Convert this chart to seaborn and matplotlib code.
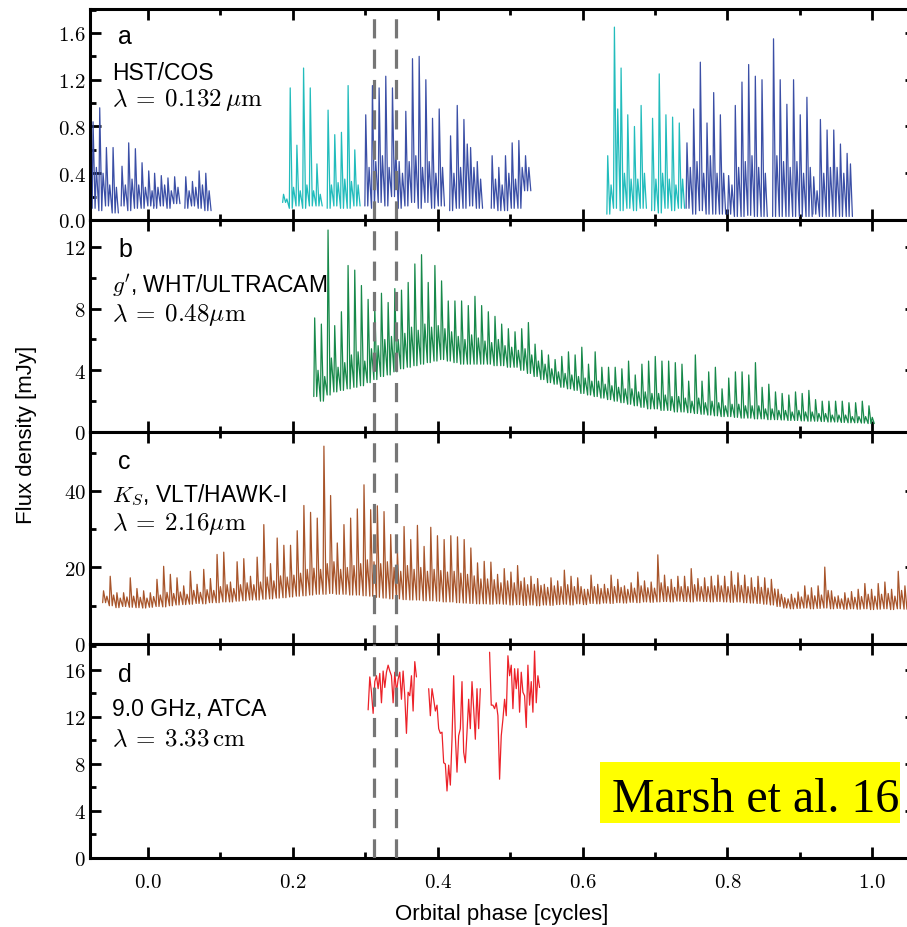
import numpy as np
import pandas as pd
import matplotlib
matplotlib.use("Agg")
import matplotlib.pyplot as plt
from matplotlib.patches import Rectangle
from matplotlib.ticker import MultipleLocator, FuncFormatter
import seaborn as sns

# ------------------------------------------------------------------ data
PULSE_STEP = 0.00922   # beat-pulse spacing in orbital phase
RADIO_STEP = 0.0023    # ATCA sampling in orbital phase

# (a) HST/COS far-UV: one entry per contiguous stretch of data
hst_start = [-0.077, -0.037, 0.008, 0.051, 0.186, 0.2475, 0.2995, 0.4166,
             0.474, 0.6336, 0.6955, 0.743, 0.8005, 0.8625, 0.918]
hst_visit = [0, 0, 0, 0, 1, 1, 0, 0, 0, 1, 1, 0, 0, 0, 0]
hst_major = [
    [0.84, 0.96, 0.62, 0.62],
    [0.46, 0.66, 0.61, 0.49, 0.42],
    [0.40, 0.38, 0.36, 0.37],
    [0.37, 0.33, 0.42, 0.40],
    [0.22, 1.13, 0.64, 1.30, 1.13, 0.48],
    [0.94, 0.73, 0.75, 1.15, 0.60],
    [0.90, 1.15, 1.13, 1.23, 1.13, 0.50, 0.93, 1.38, 1.40, 1.20, 0.87, 0.95],
    [0.72, 0.98, 0.86, 0.62, 0.50],
    [0.55, 0.45, 0.55, 0.66, 0.68, 0.55],
    [0.55, 1.65, 1.30, 0.90, 0.80, 0.98],
    [0.87, 1.25, 0.90, 0.88, 0.83],
    [0.66, 0.95, 1.35, 0.83, 1.09, 0.90],
    [0.38, 0.98, 1.18, 1.33, 1.23, 1.20],
    [1.55, 1.20, 0.99, 1.20, 0.90, 1.05],
    [0.37, 0.86, 0.77, 0.77, 0.65, 0.57],
]
hst_minor = [
    [0.45, 0.40, 0.30, 0.28],
    [0.30, 0.35, 0.30, 0.28, 0.25],
    [0.28, 0.30, 0.25, 0.28],
    [0.25, 0.28, 0.30, 0.25],
    [0.18, 0.28, 0.25, 0.30, 0.25, 0.22],
    [0.30, 0.32, 0.35, 0.33, 0.30],
    [0.45, 0.50, 0.55, 0.45, 0.60, 0.40, 0.50, 0.55, 0.45, 0.50, 0.40, 0.45],
    [0.40, 0.45, 0.65, 0.45, 0.35],
    [0.35, 0.30, 0.40, 0.35, 0.45, 0.45],
    [0.30, 0.95, 0.40, 0.35, 0.35, 0.40],
    [0.35, 0.40, 0.35, 0.30, 0.35],
    [0.45, 0.50, 0.40, 0.55, 0.40, 0.40],
    [0.30, 0.45, 0.50, 0.55, 0.45, 0.40],
    [0.55, 0.50, 0.45, 0.50, 0.40, 0.45],
    [0.25, 0.40, 0.45, 0.45, 0.40, 0.48],
]
hst_trough = [
    [0.10, 0.08, 0.12, 0.06],
    [0.12, 0.08, 0.10, 0.10, 0.12],
    [0.10, 0.12, 0.10, 0.14],
    [0.10, 0.12, 0.10, 0.08],
    [0.15, 0.10, 0.12, 0.10, 0.12, 0.12],
    [0.10, 0.12, 0.10, 0.10, 0.12],
    [0.12, 0.10, 0.15, 0.12, 0.20, 0.10, 0.12, 0.15, 0.10, 0.15, 0.10, 0.12],
    [0.08, 0.10, 0.10, 0.12, 0.10],
    [0.10, 0.08, 0.08, 0.10, 0.10, 0.25],
    [0.05, 0.10, 0.08, 0.10, 0.08, 0.10],
    [0.08, 0.06, 0.10, 0.08, 0.10],
    [0.10, 0.05, 0.08, 0.05, 0.05, 0.05],
    [0.05, 0.03, 0.03, 0.04, 0.03, 0.03],
    [0.03, 0.03, 0.03, 0.03, 0.03, 0.03],
    [0.05, 0.03, 0.03, 0.03, 0.03, 0.03],
]

# (b) g' band, WHT/ULTRACAM
g_start = 0.229
g_major = [7.4, 7.0, 13.1, 6.9, 7.8, 10.8, 10.5, 9.5, 8.6, 8.1,
           9.0, 8.4, 9.3, 9.2, 9.7, 10.9, 11.5, 9.7, 10.8, 9.8,
           8.5,
           8.5, 8.5, 8.2, 8.8, 8.2, 7.8, 7.5, 7.0, 6.7, 6.5,
           6.7, 7.1, 5.7, 5.3, 5.0, 4.7, 4.9, 5.2, 5.0, 5.5,
           4.4, 5.2, 4.2, 4.2, 4.2, 4.1, 4.6, 3.7, 4.4, 4.6,
           4.9, 4.6, 4.6, 4.5, 4.4, 3.3, 5.0, 3.3, 3.9, 4.2,
           2.8, 3.5, 3.9, 3.9, 3.7, 4.5, 2.9, 3.1, 2.6, 2.5,
           2.4, 2.6, 2.5, 2.7, 2.1, 2.0, 2.0, 2.0, 2.0, 1.9,
           1.9, 2.0, 1.7]
g_minor = [4.0, 3.6, 4.8, 4.2, 4.5, 5.0, 5.2, 4.6, 5.4, 5.6,
           6.0, 6.2, 6.0, 6.4, 6.8, 6.6, 7.0, 6.8, 6.9, 6.7,
           6.5,
           6.2, 6.0, 6.3, 6.1, 5.9, 5.8, 6.0, 5.6, 5.5, 5.3,
           5.4, 5.0, 4.6, 4.4, 4.1, 3.9, 3.8, 3.7, 3.6, 3.5,
           3.3, 3.3, 3.1, 3.0, 2.9, 2.8, 2.8, 2.6, 2.6, 2.5,
           2.5, 2.4, 2.3, 2.3, 2.2, 2.0, 2.2, 1.9, 2.0, 1.9,
           1.7, 1.8, 1.8, 1.7, 1.7, 1.7, 1.5, 1.5, 1.4, 1.4,
           1.3, 1.4, 1.3, 1.3, 1.2, 1.2, 1.1, 1.1, 1.1, 1.0,
           1.0, 1.0, 0.95]
g_trough = [2.3, 2.0, 2.4, 2.6, 2.7, 2.8, 2.9, 3.0, 3.2, 3.4,
            3.6, 3.7, 3.9, 4.1, 4.2, 4.3, 4.4, 4.5, 4.6, 4.7,
            4.6,
            4.5, 4.4, 4.4, 4.4, 4.4, 4.4, 4.3, 4.3, 4.2, 4.2,
            4.0, 3.8, 3.6, 3.4, 3.2, 3.1, 2.9, 2.8, 2.7, 2.5,
            2.4, 2.3, 2.2, 2.1, 2.0, 1.9, 1.8, 1.7, 1.6, 1.5,
            1.5, 1.4, 1.4, 1.3, 1.3, 1.25, 1.2, 1.15, 1.1, 1.05,
            1.0, 1.0, 0.95, 0.9, 0.9, 0.85, 0.85, 0.8, 0.8, 0.78,
            0.75, 0.75, 0.72, 0.7, 0.7, 0.68, 0.65, 0.65, 0.62, 0.6,
            0.6, 0.58, 0.55]

# (c) Ks band, VLT/HAWK-I
ks_start = -0.0625
ks_major = [13.9, 17.7, 13.4, 13.4, 17.3, 14.5, 13.9, 13.4, 16.9, 20.3,
            18.2, 17.3, 15.2, 19.0, 15.6, 19.5, 17.1, 23.4, 24.0, 16.2,
            21.5, 22.3, 17.7, 22.7, 31.2, 21.0, 27.7, 25.8, 25.8, 29.6,
            36.2, 34.4, 32.9, 51.7, 38.8, 26.4, 31.2, 32.9, 35.3, 41.6,
            35.1, 36.1, 34.6, 28.6, 24.4, 30.7, 27.3, 31.0, 25.5, 30.5,
            28.3, 27.3, 28.3,
            28.0, 27.3, 25.1, 21.2, 21.6, 21.4, 18.2, 19.7, 18.8, 20.5,
            17.3, 17.7, 17.1, 15.6, 17.3, 16.5, 19.3, 17.7, 17.3, 14.3,
            18.0, 15.6, 15.6, 18.0, 16.9, 15.2, 16.0, 18.8, 16.5, 16.2,
            23.3, 18.0, 16.9, 17.7, 17.7, 19.7, 17.1, 17.3, 17.7, 18.0,
            17.7, 19.0, 18.6, 18.0, 17.3, 17.7, 17.3, 16.9, 14.3, 12.1,
            13.0, 13.6, 15.2, 14.7, 15.2, 20.1, 13.9, 12.6, 13.4, 13.7,
            14.3, 15.8, 14.3, 15.8, 16.2, 14.3, 19.0, 15.2]
ks_minor = [12.5, 12.8, 12.0, 12.3, 12.5, 12.2, 12.0, 12.4, 12.8, 13.5,
            13.2, 13.6, 13.0, 14.0, 13.5, 14.2, 14.0, 15.0, 15.5, 14.5,
            15.5, 16.0, 15.5, 16.2, 17.5, 16.5, 17.8, 17.5, 18.0, 18.5,
            19.5, 19.8, 19.5, 21.0, 21.5, 19.5, 20.0, 20.5, 21.0, 22.0,
            21.5, 21.0, 21.5, 20.0, 19.0, 20.5, 19.5, 20.0, 19.0, 19.5,
            19.2, 18.8, 19.0,
            18.5, 18.2, 17.8, 17.0, 17.0, 16.8, 16.0, 16.5, 16.0, 16.4,
            15.5, 15.6, 15.3, 14.8, 15.2, 15.0, 15.5, 15.0, 15.0, 14.3,
            15.0, 14.5, 14.5, 15.0, 14.8, 14.3, 14.6, 15.2, 14.7, 14.6,
            16.0, 15.0, 14.8, 15.0, 15.0, 15.5, 15.0, 15.0, 15.2, 15.2,
            15.0, 15.4, 15.3, 15.0, 14.8, 14.8, 14.6, 14.4, 13.0, 11.8,
            12.0, 12.3, 12.8, 12.6, 12.8, 14.0, 12.3, 11.8, 12.0, 12.2,
            12.4, 13.0, 12.5, 13.0, 13.2, 12.5, 14.0, 13.0]
ks_trough = [10.8, 10.0, 9.5, 9.8, 9.6, 9.5, 9.4, 9.6, 9.8, 9.7,
             10.0, 10.2, 10.3, 10.4, 10.6, 10.5, 10.8, 10.8, 11.0, 11.0,
             11.2, 11.3, 11.5, 11.5, 11.7, 11.8, 12.0, 12.1, 12.3, 12.5,
             12.6, 12.8, 13.0, 13.0, 13.2, 13.0, 13.0, 12.8, 12.8, 12.6,
             12.5, 12.2, 12.0, 11.8, 11.8, 11.6, 11.5, 11.5, 11.3, 11.3,
             11.2, 11.0, 11.0,
             10.8, 10.7, 10.6, 10.5, 10.5, 10.4, 10.5, 10.4, 10.2, 10.3,
             10.1, 10.2, 10.0, 10.2, 10.1, 10.3, 10.4, 10.2, 10.5, 10.3,
             10.6, 10.5, 10.7, 10.6, 10.8, 10.7, 10.9, 10.8, 11.0, 10.9,
             11.0, 11.1, 11.0, 11.2, 11.1, 11.0, 11.2, 11.1, 11.0, 11.1,
             11.0, 10.9, 11.0, 10.8, 10.7, 10.6, 10.4, 10.2, 9.8, 9.4,
             9.2, 9.3, 9.4, 9.2, 9.3, 9.4, 9.2, 9.3, 9.1, 9.2,
             9.1, 9.2, 9.0, 9.1, 9.2, 9.0, 9.2, 9.1]

# (d) 9.0 GHz, ATCA
atca_start = [0.304, 0.3876, 0.4717]
atca_flux = [
    [12.6, 15.4, 14.1, 12.3, 15.0, 15.5, 14.4, 15.7, 13.2, 15.9,
     14.5, 15.8, 16.4, 15.9, 15.5, 13.2, 15.8, 14.1, 15.2, 15.8,
     13.5, 15.9, 13.8, 10.6, 14.1, 13.8, 15.5, 12.5, 16.7, 15.4],
    [14.4, 12.1, 14.4, 13.5, 12.5, 13.0, 11.0, 10.6, 10.7, 8.1,
     8.0, 5.7, 7.9, 6.2, 10.1, 15.5, 10.4, 7.3, 10.4, 11.0,
     15.0, 9.0, 8.1, 10.7, 13.5, 11.0, 15.0, 12.7, 10.1, 14.4,
     11.0, 14.4],
    [17.5, 13.0, 13.0, 12.7, 13.2, 12.1, 6.7, 10.4, 11.8, 13.5,
     12.1, 17.2, 15.5, 16.4, 12.7, 16.1, 14.4, 16.1, 12.4, 15.8,
     14.1, 13.8, 11.1, 16.4, 13.0, 15.0, 12.4, 17.6, 13.2, 15.5,
     14.5],
]

dash_phase = [0.3117, 0.3421]

# ------------------------------------------------------------ frames
PULSE_SHAPE = (0.0, 0.0012, 0.0040, 0.0058)   # trough, main pulse, trough, secondary pulse
PULSE_TAIL = 0.0085


def pulse_frame(t0, major, minor, trough, seg):
    phase, flux = [], []
    for i, (hi, mid, lo) in enumerate(zip(major, minor, trough)):
        t = t0 + i * PULSE_STEP
        phase += [t + d for d in PULSE_SHAPE]
        flux += [lo, hi, lo, mid]
    phase.append(t0 + (len(major) - 1) * PULSE_STEP + PULSE_TAIL)
    flux.append(trough[-1])
    return pd.DataFrame({"phase": phase, "flux": flux, "segment": seg})


df_hst = pd.concat(
    [pulse_frame(s, M, m, T, k).assign(visit=v)
     for k, (s, v, M, m, T) in enumerate(zip(hst_start, hst_visit, hst_major, hst_minor, hst_trough))],
    ignore_index=True)
df_g = pulse_frame(g_start, g_major, g_minor, g_trough, 0)
df_ks = pulse_frame(ks_start, ks_major, ks_minor, ks_trough, 0)
df_atca = pd.concat(
    [pd.DataFrame({"phase": s + RADIO_STEP * np.arange(len(f)), "flux": f, "segment": k})
     for k, (s, f) in enumerate(zip(atca_start, atca_flux))],
    ignore_index=True)

# ------------------------------------------------------------ style
sns.set_theme(style="ticks")
plt.rcParams["font.family"] = ["Liberation Sans", "DejaVu Sans"]
plt.rcParams["mathtext.fontset"] = "cm"
plt.rcParams["text.color"] = "black"

BLUE, CYAN = "#3b4fa6", "#22bcbc"
GREEN, BROWN, RED = "#17894a", "#a8552b", "#ec2229"
DASH = "#767676"

W, H = 907, 928
fig = plt.figure(figsize=(W / 100, H / 100), dpi=100, facecolor="white")
edges = [10, 221, 433, 645, 859]
x0_px, x1_px = 90, 915.7
axes = []
for top, bot in zip(edges[:-1], edges[1:]):
    axes.append(fig.add_axes([x0_px / W, 1 - bot / H, (x1_px - x0_px) / W, (bot - top) / H]))
ax_a, ax_b, ax_c, ax_d = axes


def math_fmt(fmt):
    return FuncFormatter(lambda v, pos: "$" + fmt.format(v) + "$")


sns.lineplot(data=df_hst, x="phase", y="flux", hue="visit", units="segment",
             estimator=None, sort=False, palette={0: BLUE, 1: CYAN},
             lw=0.9, legend=False, ax=ax_a)
sns.lineplot(data=df_g, x="phase", y="flux", units="segment", estimator=None,
             sort=False, color=GREEN, lw=0.9, ax=ax_b)
sns.lineplot(data=df_ks, x="phase", y="flux", units="segment", estimator=None,
             sort=False, color=BROWN, lw=0.9, ax=ax_c)
sns.lineplot(data=df_atca, x="phase", y="flux", units="segment", estimator=None,
             sort=False, color=RED, lw=0.9, ax=ax_d)

ylims = [1.805, 13.75, 55.4, 18.2]
ymaj = [0.4, 4, 20, 4]
ymin = [0.2, 2, 10, 2]
yfmt = ["{:.1f}", "{:.0f}", "{:.0f}", "{:.0f}"]
for ax, top, mj, mn, fmt in zip(axes, ylims, ymaj, ymin, yfmt):
    ax.set_xlim(-0.08, 1.06)
    ax.set_ylim(0, top)
    ax.set_xlabel("")
    ax.set_ylabel("")
    ax.xaxis.set_major_locator(MultipleLocator(0.2))
    ax.xaxis.set_minor_locator(MultipleLocator(0.1))
    ax.yaxis.set_major_locator(MultipleLocator(mj))
    ax.yaxis.set_minor_locator(MultipleLocator(mn))
    ax.yaxis.set_major_formatter(math_fmt(fmt))
    ax.xaxis.set_major_formatter(math_fmt("{:.1f}"))
    ax.tick_params(which="both", direction="in", top=True, right=True,
                   width=2.0, color="black", labelcolor="black", labelsize=15)
    ax.tick_params(which="major", length=8)
    ax.tick_params(which="minor", length=4.5)
    ax.tick_params(axis="y", pad=3)
    ax.tick_params(axis="x", pad=10)
    for sp in ax.spines.values():
        sp.set_linewidth(2.2)
        sp.set_color("black")
    for xp in dash_phase:
        ax.axvline(xp, color=DASH, lw=2.3, ls=(0, (6, 3.5)), zorder=3)
    ax.set_facecolor("white")
for ax in axes[:-1]:
    ax.tick_params(labelbottom=False)


def fpos(px, py):
    return px / W, 1 - py / H


TXT = 16.5
MATH = 18
labels = [
    ("a", "HST/COS", r"$\lambda\:=\:0.132\,\mu\mathrm{m}$", 37, 74, 100),
    ("b", r"$g'$, WHT/ULTRACAM", r"$\lambda\:=\:0.48\mu\mathrm{m}$", 250, 286, 315),
    ("c", r"$K_S$, VLT/HAWK-I", r"$\lambda\:=\:2.16\mu\mathrm{m}$", 462, 495, 524),
    ("d", "9.0 GHz, ATCA", r"$\lambda\:=\:3.33\,\mathrm{cm}$", 675, 710, 739),
]
for letter, inst, lam, y1, y2, y3 in labels:
    fig.text(*fpos(118, y1), letter, fontsize=18, va="center", ha="left", color="black")
    fig.text(*fpos(112, y2), inst, fontsize=TXT, va="center", ha="left", color="black")
    fig.text(*fpos(112, y3), lam, fontsize=MATH, va="center", ha="left", color="black")

fig.text(*fpos(27, 435), "Flux density [mJy]", rotation=90, fontsize=16,
         va="center", ha="center", color="black")
fig.text(*fpos(502, 915), "Orbital phase [cycles]", fontsize=16,
         va="center", ha="center", color="black")

fig.add_artist(Rectangle((600 / W, 1 - 824 / H), 300 / W, 61 / H,
                         transform=fig.transFigure, facecolor="#ffff00",
                         edgecolor="none", zorder=10))
fig.text(*fpos(612, 812), "Marsh et al. 16", fontsize=34.5, color="black",
         family=["Liberation Serif", "DejaVu Serif"], va="baseline",
         ha="left", zorder=11)

fig.savefig("out.png", dpi=100, facecolor="white")
